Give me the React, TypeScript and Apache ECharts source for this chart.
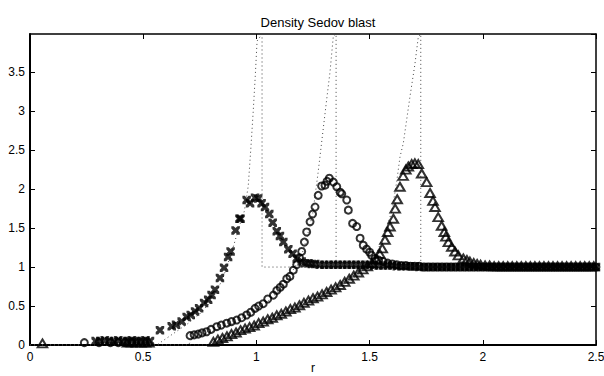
import React, { useEffect, useRef } from "react";
import * as echarts from "echarts";

const titleText = "Density Sedov blast";
const xName = "r";
const xMin = 0;
const xMax = 2.5;
const xStep = 0.5;
const yMin = 0;
const yMax = 3.99;
const yStep = 0.5;

// exact solutions (dotted)
const exact1: number[][] = [
  [0, 0], [0.56, 0], [0.6, 0.08], [0.65, 0.18], [0.7, 0.28], [0.75, 0.4], [0.8, 0.56],
  [0.85, 0.84], [0.89, 1.18], [0.92, 1.48], [0.947, 1.72], [0.964, 2.04], [0.975, 2.5],
  [0.986, 3.0], [0.995, 3.45], [1.003, 3.9], [1.025, 3.99], [1.025, 1], [2.5, 1],
];
const exact2: number[][] = [
  [0, 0], [0.7, 0], [0.72, 0.1], [0.8, 0.17], [0.9, 0.28], [1.0, 0.45], [1.05, 0.56],
  [1.1, 0.7], [1.15, 0.9], [1.2, 1.15], [1.225, 1.4], [1.249, 1.69], [1.272, 2.2],
  [1.31, 3.14], [1.325, 3.5], [1.34, 3.97], [1.352, 3.99], [1.352, 1], [2.5, 1],
];
const exact3: number[][] = [
  [0, 0], [0.8, 0], [0.82, 0.04], [0.9, 0.13], [1.0, 0.25], [1.1, 0.37], [1.2, 0.5],
  [1.3, 0.65], [1.4, 0.8], [1.47, 0.95], [1.52, 1.1], [1.56, 1.39], [1.583, 1.58],
  [1.598, 1.71], [1.62, 2.1], [1.634, 2.41], [1.649, 2.59], [1.678, 3.18], [1.7, 3.6],
  [1.715, 3.95], [1.726, 3.99], [1.726, 1], [2.5, 1],
];

// numerical solution, time 1 (crosses)
const crossPts: number[][] = [
  [0.29, 0.05], [0.31, 0.05], [0.33, 0.06], [0.35, 0.05], [0.37, 0.05], [0.39, 0.06], [0.41, 0.05],
  [0.43, 0.05], [0.45, 0.06], [0.47, 0.05], [0.49, 0.05], [0.51, 0.06], [0.53, 0.05],
  [0.574, 0.19], [0.626, 0.24], [0.645, 0.26], [0.67, 0.3], [0.692, 0.36], [0.71, 0.385],
  [0.729, 0.43], [0.747, 0.47], [0.769, 0.54], [0.787, 0.58], [0.802, 0.64], [0.817, 0.71],
  [0.839, 0.86], [0.857, 0.99], [0.875, 1.13], [0.886, 1.2], [0.908, 1.47], [0.925, 1.62],
  [0.93, 1.62], [0.957, 1.86], [0.972, 1.82], [0.994, 1.89], [1.008, 1.88], [1.023, 1.82],
  [1.038, 1.77], [1.057, 1.68], [1.072, 1.57], [1.09, 1.46], [1.104, 1.4], [1.119, 1.32],
  [1.141, 1.23], [1.16, 1.17], [1.178, 1.11], [1.2, 1.07], [1.215, 1.05], [1.23, 1.05],
  [1.245, 1.04], [1.26, 1.04], [1.28, 1.03], [1.3, 1.03], [1.32, 1.03], [1.34, 1.03],
  [1.36, 1.03], [1.38, 1.03], [1.4, 1.03], [1.42, 1.03], [1.44, 1.03], [1.46, 1.03],
  [1.48, 1.03], [1.5, 1.03], [1.52, 1.02], [1.54, 1.02], [1.56, 1.02], [1.58, 1.02],
  [1.6, 1.02], [1.62, 1.01], [1.64, 1.01], [1.66, 1.01], [1.68, 1.01], [1.7, 1.01],
  [1.72, 1.0], [1.74, 1.0], [1.76, 1.0], [1.78, 1.0], [1.8, 1.0], [1.82, 1.0], [1.84, 1.0],
  [1.86, 1.0], [1.88, 1.0], [1.9, 1.0], [1.92, 1.0], [1.94, 1.0], [1.96, 1.0], [1.98, 1.0],
  [2.0, 1.0], [2.02, 1.0], [2.04, 1.0], [2.06, 1.0], [2.08, 1.0], [2.1, 1.0], [2.12, 1.0],
  [2.14, 1.0], [2.16, 1.0], [2.18, 1.0], [2.2, 1.0], [2.22, 1.0], [2.24, 1.0], [2.26, 1.0],
  [2.28, 1.0], [2.3, 1.0], [2.32, 1.0], [2.34, 1.0], [2.36, 1.0], [2.38, 1.0], [2.4, 1.0],
  [2.42, 1.0], [2.44, 1.0], [2.46, 1.0], [2.48, 1.0], [2.5, 1.0],
];

// numerical solution, time 2 (circles)
const circlePts: number[][] = [
  [0.24, 0.03], [0.305, 0.03], [0.355, 0.03], [0.39, 0.03], [0.42, 0.03], [0.45, 0.03],
  [0.707, 0.12], [0.725, 0.13], [0.743, 0.14], [0.76, 0.155], [0.78, 0.17], [0.8, 0.2],
  [0.825, 0.235], [0.845, 0.255], [0.869, 0.28], [0.89, 0.3], [0.913, 0.32], [0.935, 0.35],
  [0.957, 0.385], [0.975, 0.42], [0.994, 0.47], [1.01, 0.5], [1.03, 0.53], [1.05, 0.59],
  [1.075, 0.64], [1.09, 0.7], [1.105, 0.74], [1.119, 0.78], [1.134, 0.85], [1.148, 0.88],
  [1.163, 0.96], [1.178, 1.03], [1.19, 1.12], [1.2, 1.2], [1.212, 1.32], [1.222, 1.45],
  [1.237, 1.58], [1.248, 1.68], [1.259, 1.77], [1.273, 1.92], [1.288, 2.04], [1.303, 2.05],
  [1.312, 2.1], [1.322, 2.14], [1.34, 2.09], [1.355, 2.03], [1.37, 1.96], [1.377, 1.94],
  [1.399, 1.86], [1.406, 1.73], [1.425, 1.56], [1.443, 1.52], [1.458, 1.37], [1.472, 1.28],
  [1.487, 1.23], [1.5, 1.19], [1.509, 1.15], [1.524, 1.11], [1.54, 1.09], [1.56, 1.07],
  [1.58, 1.05], [1.6, 1.04], [1.62, 1.03], [1.64, 1.02], [1.66, 1.02], [1.68, 1.01],
  [1.7, 1.01], [1.72, 1.01], [1.74, 1.0], [1.76, 1.0], [1.78, 1.0], [1.8, 1.0], [1.82, 1.0],
  [1.84, 1.0], [1.86, 1.0], [1.88, 1.0], [1.9, 1.0], [1.92, 1.0], [1.94, 1.0], [1.96, 1.0],
  [1.98, 1.0], [2.0, 1.0], [2.02, 1.0], [2.04, 1.0], [2.06, 1.0], [2.08, 1.0], [2.1, 1.0],
  [2.12, 1.0], [2.14, 1.0], [2.16, 1.0], [2.18, 1.0], [2.2, 1.0], [2.22, 1.0], [2.24, 1.0],
  [2.26, 1.0], [2.28, 1.0], [2.3, 1.0], [2.32, 1.0], [2.34, 1.0], [2.36, 1.0], [2.38, 1.0],
  [2.4, 1.0], [2.42, 1.0], [2.44, 1.0], [2.46, 1.0], [2.48, 1.0], [2.5, 1.0],
];

// numerical solution, time 3 (triangles)
const trianglePts: number[][] = [
  [0.055, 0.02], [0.43, 0.03], [0.45, 0.03], [0.47, 0.03], [0.49, 0.03], [0.51, 0.03], [0.525, 0.03],
  [0.81, 0.04], [0.83, 0.07], [0.85, 0.09], [0.87, 0.11], [0.89, 0.14], [0.91, 0.16],
  [0.93, 0.19], [0.95, 0.21], [0.97, 0.23], [0.99, 0.25], [1.01, 0.28], [1.03, 0.3],
  [1.05, 0.33], [1.07, 0.35], [1.09, 0.38], [1.11, 0.4], [1.13, 0.43], [1.15, 0.46],
  [1.17, 0.48], [1.19, 0.51], [1.21, 0.54], [1.23, 0.57], [1.25, 0.6], [1.27, 0.62],
  [1.29, 0.65], [1.31, 0.68], [1.33, 0.71], [1.35, 0.74], [1.37, 0.77], [1.39, 0.81],
  [1.41, 0.85], [1.43, 0.89], [1.45, 0.93], [1.47, 0.97], [1.49, 1.01], [1.51, 1.05],
  [1.53, 1.1], [1.545, 1.17], [1.556, 1.24], [1.568, 1.35], [1.58, 1.45], [1.59, 1.52],
  [1.605, 1.62], [1.613, 1.75], [1.622, 1.87], [1.634, 2.03], [1.648, 2.17], [1.66, 2.25],
  [1.671, 2.29], [1.686, 2.32], [1.7, 2.33], [1.715, 2.32], [1.73, 2.2], [1.752, 2.09],
  [1.767, 1.95], [1.78, 1.85], [1.789, 1.77], [1.803, 1.64], [1.818, 1.53], [1.83, 1.45],
  [1.837, 1.39], [1.848, 1.32], [1.863, 1.26], [1.877, 1.2], [1.892, 1.15], [1.914, 1.11],
  [1.93, 1.09], [1.943, 1.07], [1.96, 1.05], [1.975, 1.04], [1.99, 1.03], [2.01, 1.02],
  [2.03, 1.02], [2.05, 1.01], [2.07, 1.01], [2.09, 1.01], [2.11, 1.01], [2.13, 1.01],
  [2.15, 1.01], [2.17, 1.01], [2.19, 1.01], [2.21, 1.01], [2.23, 1.01], [2.25, 1.01],
  [2.27, 1.01], [2.29, 1.01], [2.31, 1.01], [2.33, 1.01], [2.35, 1.01], [2.37, 1.01],
  [2.39, 1.01], [2.41, 1.01], [2.43, 1.01], [2.45, 1.01], [2.47, 1.01], [2.49, 1.01],
];

const crossSymbol =
  "path://M0,0L2.8,0L5,2.2L7.2,0L10,0L10,2.8L7.8,5L10,7.2L10,10L7.2,10L5,7.8L2.8,10L0,10L0,7.2L2.2,5L0,2.8Z";

const FONT = "'Liberation Sans', Arial, Helvetica, sans-serif";

export default function App() {
  const ref = useRef<HTMLDivElement>(null);
  useEffect(() => {
    if (!ref.current) return;
    const chart = echarts.init(ref.current, undefined, { renderer: "svg" });
    const dotted = {
      type: "line",
      showSymbol: false,
      symbol: "none",
      silent: true,
      lineStyle: { color: "#444", width: 1, type: [1, 3] },
      z: 1,
    };
    const baseX = {
      type: "value",
      min: xMin,
      max: xMax,
      interval: xStep,
      splitLine: { show: false },
    };
    const baseY = {
      type: "value",
      min: yMin,
      max: yMax,
      interval: yStep,
      splitLine: { show: false },
    };
    chart.setOption({
      animation: false,
      backgroundColor: "#fff",
      title: {
        text: titleText,
        left: 313,
        top: 11,
        textAlign: "center",
        textStyle: { fontFamily: FONT, fontSize: 13, fontWeight: "normal", color: "#000" },
      },
      grid: {
        left: 30,
        right: 8,
        top: 34,
        bottom: 31,
        containLabel: false,
        outerBoundsMode: "none",
      },
      xAxis: [
        {
          ...baseX,
          position: "bottom",
          name: xName,
          nameLocation: "middle",
          nameGap: 17,
          nameMoveOverlap: false,
          nameTextStyle: { fontFamily: FONT, fontSize: 12, color: "#000", verticalAlign: "top" },
          axisLine: { onZero: false, lineStyle: { color: "#000", width: 2 } },
          axisTick: { inside: true, length: 5, lineStyle: { color: "#000", width: 1 } },
          axisLabel: { fontFamily: FONT, fontSize: 12, color: "#000", margin: 6 },
        },
        {
          ...baseX,
          position: "top",
          axisLine: { onZero: false, lineStyle: { color: "#000", width: 1.5 } },
          axisTick: { inside: true, length: 5, lineStyle: { color: "#000", width: 1 } },
          axisLabel: { show: false },
        },
      ],
      yAxis: [
        {
          ...baseY,
          position: "left",
          axisLine: { onZero: false, lineStyle: { color: "#000", width: 2 } },
          axisTick: { inside: true, length: 5, lineStyle: { color: "#000", width: 1 } },
          axisLabel: {
            fontFamily: FONT,
            fontSize: 12,
            color: "#000",
            margin: 5,
            showMaxLabel: false,
          },
        },
        {
          ...baseY,
          position: "right",
          axisLine: { onZero: false, lineStyle: { color: "#000", width: 1.5 } },
          axisTick: { inside: true, length: 5, lineStyle: { color: "#000", width: 1 } },
          axisLabel: { show: false },
        },
      ],
      series: [
        { ...dotted, name: "exact 1", data: exact1 },
        { ...dotted, name: "exact 2", data: exact2 },
        { ...dotted, name: "exact 3", data: exact3 },
        {
          type: "scatter",
          name: "t1",
          data: crossPts,
          symbol: crossSymbol,
          symbolSize: 8.5,
          itemStyle: { color: "#000" },
          z: 3,
        },
        {
          type: "scatter",
          name: "t2",
          data: circlePts,
          symbol: "circle",
          symbolSize: 7,
          itemStyle: { color: "rgba(0,0,0,0)", borderColor: "#000", borderWidth: 2 },
          z: 3,
        },
        {
          type: "scatter",
          name: "t3",
          data: trianglePts,
          symbol: "triangle",
          symbolSize: [9.5, 8],
          itemStyle: { color: "rgba(0,0,0,0)", borderColor: "#000", borderWidth: 2 },
          z: 3,
        },
      ],
    });
    return () => chart.dispose();
  }, []);
  return (
    <div
      ref={ref}
      style={{ position: "fixed", left: 0, top: 0, width: 604, height: 376, background: "#fff" }}
    />
  );
}
